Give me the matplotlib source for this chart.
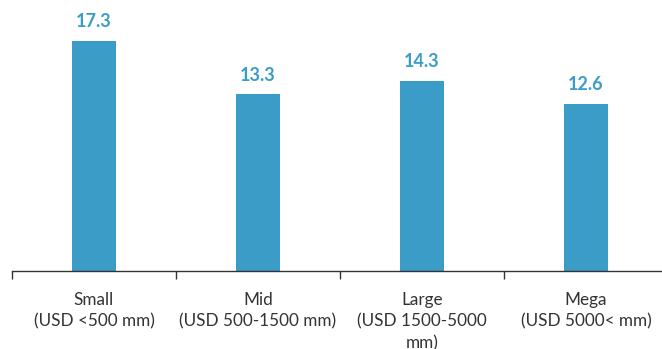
import matplotlib.pyplot as plt
import numpy as np

categories = ["Small\n(USD <500 mm)", "Mid\n(USD 500-1500 mm)",
              "Large\n(USD 1500-5000\nmm)", "Mega\n(USD 5000< mm)"]
values = [17.3, 13.3, 14.3, 12.6]

plt.rcParams['font.family'] = ['Lato', 'DejaVu Sans']
bar_color = "#3B9CC8"

fig = plt.figure(figsize=(6.62, 3.49), dpi=100)
ax = fig.add_axes([12/662, 78/349, 656/662, 271/349])

x = np.arange(len(values))
bars = ax.bar(x, values, width=0.27, color=bar_color)
for xi, v in zip(x, values):
    ax.text(xi, v + 0.8, f"{v:.1f}", ha="center", va="bottom",
            fontsize=13, fontweight="bold", color=bar_color)

ax.set_xlim(-0.5, 3.5)
ax.set_ylim(0, 271/13.29)
ax.set_yticks([])
ax.set_xticks(x)
ax.set_xticklabels(categories, fontsize=12.3, color="#333333", linespacing=1.45)
ax.tick_params(axis="x", which="major", length=0, pad=15)
ax.set_xticks(np.arange(-0.5, 4, 1), minor=True)
ax.tick_params(axis="x", which="minor", length=6, width=1, color="#333333")
for s in ["top", "right", "left"]:
    ax.spines[s].set_visible(False)
ax.spines["bottom"].set_color("#333333")
ax.spines["bottom"].set_linewidth(1)

fig.savefig("out.png", dpi=100)
